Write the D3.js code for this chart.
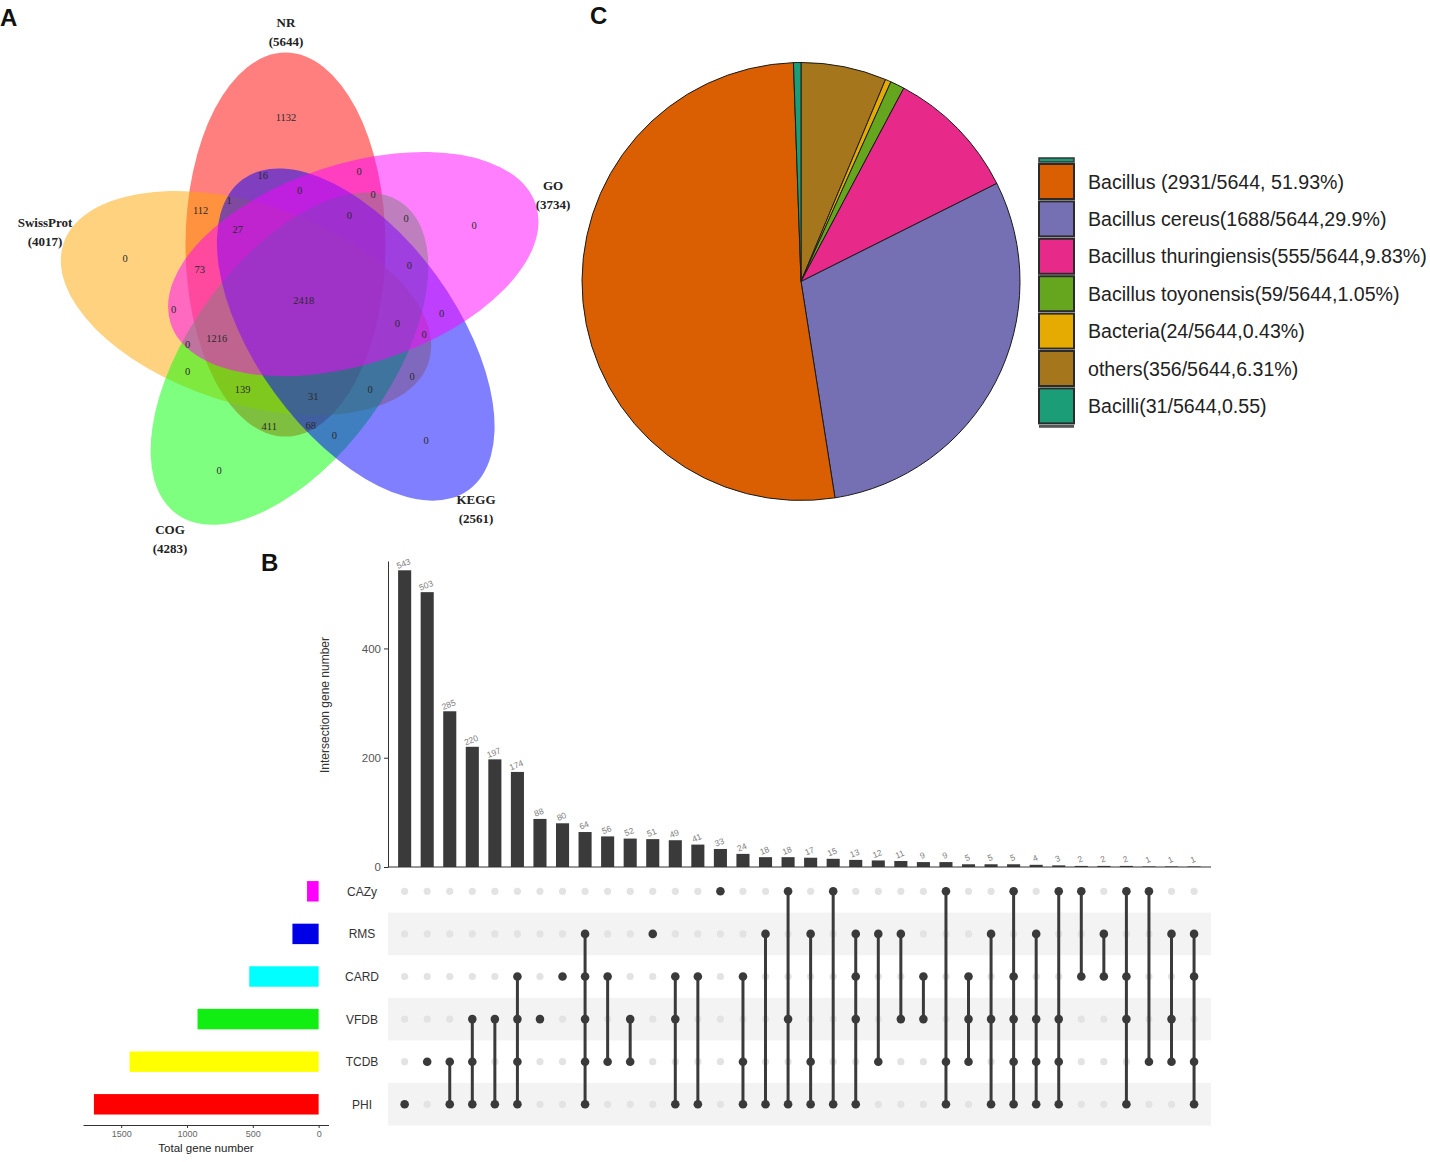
<!DOCTYPE html>
<html>
<head>
<meta charset="utf-8">
<script src="https://cdn.jsdelivr.net/npm/d3@7"></script>
<style>
body { margin: 0; background: #fff; }
svg { display: block; }
</style>
</head>
<body>
<svg id="fig" width="1430" height="1162"></svg>
<script>
// ---- data: panel A (venn) ----
const vennSets = ["NR", "GO", "KEGG", "COG", "SwissProt"];
const vennTotals = [5644, 3734, 2561, 4283, 4017];
const vennColors = ["#ff0000", "#ff00ff", "#0000ff", "#00ff00", "#ffa500"];
const vennCounts = [1132, 16, 0, 0, 0, 0, 0, 0, 112, 1, 27, 0, 73, 0, 2418, 0,
                    0, 0, 0, 1216, 0, 0, 0, 139, 31, 0, 411, 68, 0, 0, 0];

// ---- data: panel B (upset) ----
const setNames = ["CAZy", "RMS", "CARD", "VFDB", "TCDB", "PHI"];
const setSizes = [88, 199, 527, 920, 1436, 1707];
const setColors = ["#ff00ff", "#0000e6", "#00ffff", "#11ee11", "#ffff00", "#ff0000"];
const interSizes = [543, 503, 285, 220, 197, 174, 88, 80, 64, 56, 52, 51, 49, 41, 33, 24, 18, 18,
                    17, 15, 13, 12, 11, 9, 9, 5, 5, 5, 4, 3, 2, 2, 2, 1, 1, 1];
const interSets = [
    ["PHI"], ["TCDB"], ["TCDB", "PHI"], ["VFDB", "TCDB", "PHI"], ["VFDB", "PHI"],
    ["CARD", "VFDB", "TCDB", "PHI"], ["VFDB"], ["CARD"], ["RMS", "CARD", "VFDB", "TCDB", "PHI"],
    ["CARD", "TCDB"], ["VFDB", "TCDB"], ["RMS"], ["CARD", "VFDB", "PHI"], ["CARD", "PHI"],
    ["CAZy"], ["CARD", "TCDB", "PHI"], ["RMS", "PHI"], ["CAZy", "VFDB", "PHI"],
    ["RMS", "TCDB", "PHI"], ["CAZy", "PHI"], ["RMS", "CARD", "VFDB", "PHI"], ["RMS", "TCDB"],
    ["RMS", "VFDB"], ["CARD", "VFDB"], ["CAZy", "TCDB", "PHI"], ["CARD", "VFDB", "TCDB"],
    ["RMS", "VFDB", "PHI"], ["CAZy", "CARD", "VFDB", "TCDB", "PHI"], ["RMS", "VFDB", "TCDB", "PHI"],
    ["CAZy", "VFDB", "TCDB", "PHI"], ["CAZy", "CARD"], ["RMS", "CARD"],
    ["CAZy", "CARD", "VFDB", "PHI"], ["CAZy", "TCDB"], ["RMS", "VFDB", "TCDB"],
    ["RMS", "CARD", "TCDB", "PHI"]
];
const yTicks = [0, 200, 400];
const setTicks = [1500, 1000, 500, 0];

// ---- data: panel C (pie) ----
const taxa = ["Bacillus", "Bacillus cereus", "Bacillus thuringiensis", "Bacillus toyonensis",
              "Bacteria", "others", "Bacilli"];
const taxaCounts = [2931, 1688, 555, 59, 24, 356, 31];
const taxaLabels = ["Bacillus (2931/5644, 51.93%)", "Bacillus cereus(1688/5644,29.9%)",
                    "Bacillus thuringiensis(555/5644,9.83%)", "Bacillus toyonensis(59/5644,1.05%)",
                    "Bacteria(24/5644,0.43%)", "others(356/5644,6.31%)", "Bacilli(31/5644,0.55)"];
const taxaColors = ["#d95f02", "#7570b3", "#e7298a", "#66a61e", "#e6ab02", "#a6761d", "#1b9e77"];
const pieOrder = ["others", "Bacteria", "Bacillus toyonensis", "Bacillus thuringiensis",
                  "Bacillus cereus", "Bacillus", "Bacilli"];

const svg = d3.select("#fig");
const sans = "'Liberation Sans', Arial, sans-serif";
const serif = "'Liberation Serif', 'Times New Roman', serif";

// panel letters
[["A", 0, 26], ["C", 590, 24], ["B", 261, 571]].forEach(p => {
    svg.append("text").attr("x", p[1]).attr("y", p[2]).text(p[0])
        .attr("font-family", sans).attr("font-weight", "bold").attr("font-size", 24).attr("fill", "#111");
});

/** Panel A: five-set venn */
let vc = [306, 301], vOff = 60, semiMajor = 192, semiMinor = 100;
let vennDrawOrder = ["NR", "SwissProt", "COG", "KEGG", "GO"];
let gA = svg.append("g");

// ring position i follows vennSets order (NR, GO, KEGG, COG, SwissProt)
function ellipseOf(i) {
    let a = (250 + 72 * i) * Math.PI / 180;
    return {
        cx: vc[0] + vOff * Math.cos(a),
        cy: vc[1] + vOff * Math.sin(a),
        rot: 90 + 72 * i
    };
}

vennDrawOrder.forEach(name => {
    let i = vennSets.indexOf(name);
    let e = ellipseOf(i);
    gA.append("ellipse")
        .attr("cx", 0).attr("cy", 0)
        .attr("rx", semiMajor).attr("ry", semiMinor)
        .attr("transform", `translate(${e.cx},${e.cy}) rotate(${e.rot})`)
        .attr("fill", vennColors[i]).attr("fill-opacity", 0.5);
});

// region labels, placed as in the layout of the figure
const vennCountPos = [[286,117],[262.7,175],[299.7,190],[359,171.7],[373,194],[349.3,215.7],[406,218],
    [474,225],[200.7,210],[229,200],[237.7,229],[125,258],[199.7,269],[409.3,265.7],[303.7,300.7],
    [173.7,309.3],[441.7,313.3],[397.3,323.3],[424,334.3],[216.7,338.7],[187.7,344.3],[187.7,371.7],
    [412,376.7],[242.7,389.3],[313.3,396.7],[370,389.3],[269.3,426],[310.7,425.3],[334.3,435.7],
    [426,440],[219,470]];

gA.selectAll("text.count")
    .data(vennCounts)
    .enter().append("text")
    .attr("class", "count")
    .attr("x", (d, i) => vennCountPos[i][0])
    .attr("y", (d, i) => vennCountPos[i][1] + 3.5)
    .attr("text-anchor", "middle")
    .attr("font-family", serif).attr("font-size", 10.5).attr("fill", "#2a2a2a")
    .text(d => d);

const vennNamePos = [[286, 27], [553, 190], [476, 504], [170, 534], [45, 227]];
vennSets.forEach((s, i) => {
    let t = gA.append("text").attr("text-anchor", "middle")
        .attr("font-family", serif).attr("font-weight", "bold").attr("font-size", 13).attr("fill", "#222");
    t.append("tspan").attr("x", vennNamePos[i][0]).attr("y", vennNamePos[i][1]).text(s);
    t.append("tspan").attr("x", vennNamePos[i][0]).attr("y", vennNamePos[i][1] + 19).text(`(${vennTotals[i]})`);
});

/** Panel C: pie */
let pieR = 219;
let gC = svg.append("g").attr("transform", "translate(801,281.5)");
let pie = d3.pie().sort(null).value(name => taxaCounts[taxa.indexOf(name)]);
let arc = d3.arc().innerRadius(0).outerRadius(pieR);

gC.selectAll("path")
    .data(pie(pieOrder))
    .enter().append("path")
    .attr("d", arc)
    .attr("fill", d => taxaColors[taxa.indexOf(d.data)])
    .attr("stroke", "#1a1a1a").attr("stroke-width", 1);

let legend = svg.append("g").attr("transform", "translate(1039,164)");
legend.append("rect").attr("x", 0).attr("y", -6).attr("width", 35).attr("height", 4)
    .attr("fill", "#1b9e77").attr("stroke", "#333").attr("stroke-width", 1.5);
taxa.forEach((t, i) => {
    let y = i * 37.4;
    legend.append("rect").attr("x", 0).attr("y", y).attr("width", 35).attr("height", 35)
        .attr("fill", taxaColors[i]).attr("stroke", "#2b2b2b").attr("stroke-width", 2);
    legend.append("text").attr("x", 49).attr("y", y + 24.5)
        .attr("font-family", sans).attr("font-size", 19.6).attr("fill", "#222")
        .text(taxaLabels[i]);
});
legend.append("rect").attr("x", 0).attr("y", 7 * 37.4 - 1).attr("width", 35).attr("height", 3)
    .attr("fill", "#555");

/** Panel B: upset plot */
let gB = svg.append("g");
let xCol = d3.scaleBand().domain(d3.range(interSizes.length)).range([398.1, 1200.6]).paddingInner(0.42);
let yBar = d3.scaleLinear().domain([0, 560]).range([867, 561]);
let yRow = d3.scaleBand().domain(setNames).range([870, 1125.6]);
let xSet = d3.scaleLinear().domain([-75, 1790]).range([328.5, 83]);

// row stripes
setNames.forEach((s, i) => {
    if (i % 2 === 1) {
        gB.append("rect").attr("x", 388).attr("y", yRow(s)).attr("width", 823).attr("height", yRow.bandwidth())
            .attr("fill", "#f3f3f3");
    }
});

// intersection bars
gB.selectAll("rect.bar")
    .data(interSizes)
    .enter().append("rect")
    .attr("class", "bar")
    .attr("x", (d, i) => xCol(i))
    .attr("y", d => yBar(d))
    .attr("width", xCol.bandwidth())
    .attr("height", d => yBar(0) - yBar(d))
    .attr("fill", "#3a3a3a");

gB.selectAll("text.barlab")
    .data(interSizes)
    .enter().append("text")
    .attr("class", "barlab")
    .attr("transform", (d, i) => `translate(${xCol(i) + xCol.bandwidth() / 2},${yBar(d) - 4}) rotate(-22)`)
    .attr("text-anchor", "middle")
    .attr("font-family", sans).attr("font-size", 8.5).attr("fill", "#808080")
    .text(d => d);

// y axis
let yAxis = gB.append("g").attr("transform", "translate(388,0)")
    .call(d3.axisLeft(yBar).tickValues(yTicks).tickSize(4).tickSizeOuter(0));
yAxis.select(".domain").attr("stroke", "#333");
yAxis.selectAll(".tick line").attr("stroke", "#333");
yAxis.selectAll(".tick text").attr("font-family", sans).attr("font-size", 11.5).attr("fill", "#555");

gB.append("line").attr("x1", 388).attr("x2", 1211).attr("y1", yBar(0)).attr("y2", yBar(0))
    .attr("stroke", "#333").attr("stroke-width", 1);

gB.append("text")
    .attr("transform", "translate(329,705) rotate(-90)")
    .attr("text-anchor", "middle")
    .attr("font-family", sans).attr("font-size", 12).attr("fill", "#333")
    .text("Intersection gene number");

// matrix
let dotsG = gB.append("g");
interSets.forEach((sets, i) => {
    let cx = xCol(i) + xCol.bandwidth() / 2;
    setNames.forEach(s => {
        dotsG.append("circle").attr("cx", cx).attr("cy", yRow(s) + yRow.bandwidth() / 2)
            .attr("r", 3.6).attr("fill", "#e3e3e3");
    });
    let ys = sets.map(s => yRow(s) + yRow.bandwidth() / 2);
    if (ys.length > 1) {
        dotsG.append("line").attr("x1", cx).attr("x2", cx)
            .attr("y1", d3.min(ys)).attr("y2", d3.max(ys))
            .attr("stroke", "#3a3a3a").attr("stroke-width", 3);
    }
    ys.forEach(y => {
        dotsG.append("circle").attr("cx", cx).attr("cy", y).attr("r", 4.3).attr("fill", "#3a3a3a");
    });
});

// set labels
setNames.forEach(s => {
    gB.append("text").attr("x", 362).attr("y", yRow(s) + yRow.bandwidth() / 2 + 4.5)
        .attr("text-anchor", "middle")
        .attr("font-family", sans).attr("font-size", 12).attr("fill", "#333")
        .text(s);
});

// set size bars
let setBand = yRow.copy().paddingInner(0.52).paddingOuter(0.26);
gB.selectAll("rect.setbar")
    .data(setSizes)
    .enter().append("rect")
    .attr("class", "setbar")
    .attr("x", d => xSet(d))
    .attr("y", (d, i) => setBand(setNames[i]))
    .attr("width", d => xSet(0) - xSet(d))
    .attr("height", setBand.bandwidth())
    .attr("fill", (d, i) => setColors[i]);

let xAxis = gB.append("g").attr("transform", "translate(0,1125)")
    .call(d3.axisBottom(xSet).tickValues(setTicks).tickFormat(d3.format("d")).tickSize(3).tickSizeOuter(0));
xAxis.select(".domain").attr("stroke", "#333");
xAxis.selectAll(".tick line").attr("stroke", "#333");
xAxis.selectAll(".tick text").attr("font-family", sans).attr("font-size", 9).attr("fill", "#666");

gB.append("text").attr("x", 206).attr("y", 1152).attr("text-anchor", "middle")
    .attr("font-family", sans).attr("font-size", 11.5).attr("fill", "#222")
    .text("Total gene number");
</script>
</body>
</html>
